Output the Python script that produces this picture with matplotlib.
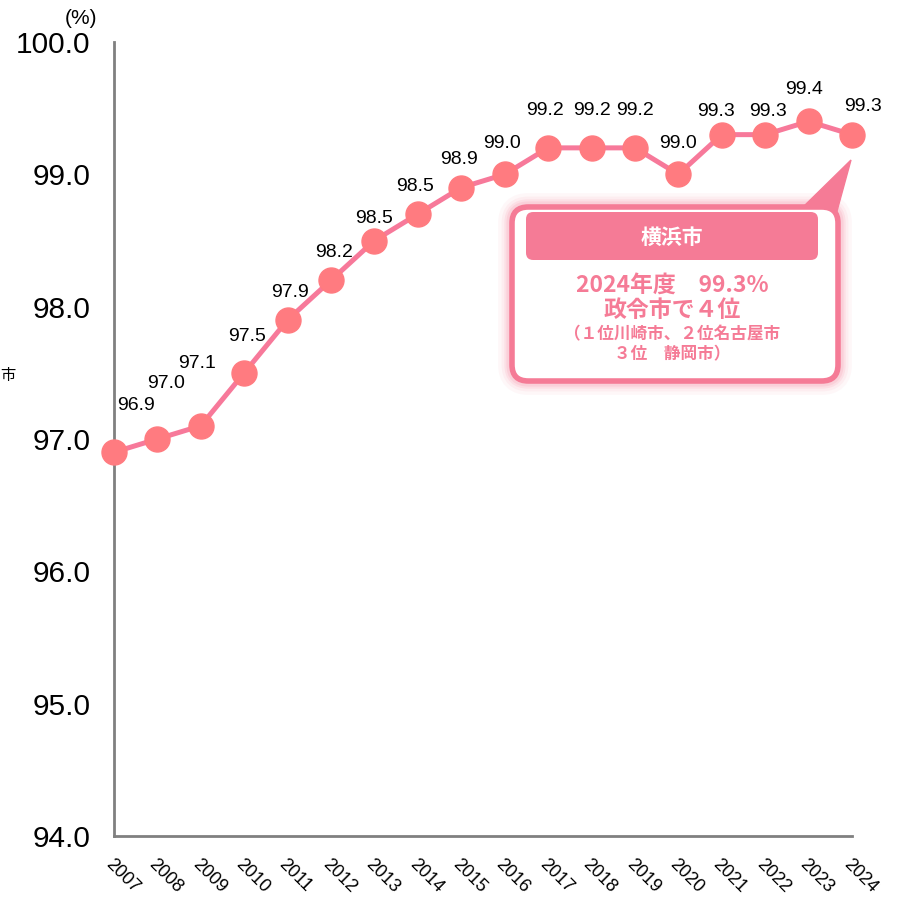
import matplotlib.pyplot as plt
from matplotlib.patches import FancyBboxPatch, Polygon

plt.rcParams['font.family'] = ['Liberation Sans', 'Noto Sans CJK JP', 'DejaVu Sans']

years = ['2007', '2008', '2009', '2010', '2011', '2012', '2013', '2014', '2015',
         '2016', '2017', '2018', '2019', '2020', '2021', '2022', '2023', '2024']
rates = [96.9, 97.0, 97.1, 97.5, 97.9, 98.2, 98.5, 98.7, 98.9,
         99.0, 99.2, 99.2, 99.2, 99.0, 99.3, 99.3, 99.4, 99.3]
labels = ['96.9', '97.0', '97.1', '97.5', '97.9', '98.2', '98.5', '98.5', '98.9',
          '99.0', '99.2', '99.2', '99.2', '99.0', '99.3', '99.3', '99.4', '99.3']
# label offsets (points) as they sit in the original
lab_dx = [16, 6, -3, 2, 2, 2, 0, -2, -2, -2, -2, 0, 0, 0, -4, 2, -3, 8]
lab_dy = [34, 40, 45, 26, 20, 20, 16, 20, 20, 22, 27, 27, 27, 22, 17, 17, 23, 20]

pink = '#F57B96'
marker_c = '#FF7B80'

fig = plt.figure(figsize=(9.07, 8.97), dpi=100)
ax = fig.add_axes([114 / 907, 1 - 836 / 897, (852 - 114) / 907, (836 - 42) / 897])
x = list(range(len(years)))
ax.plot(x, rates, color='#F7799A', lw=3.6, zorder=3, clip_on=False)
ax.plot(x, rates, 'o', ms=18, color=marker_c, mec=marker_c, zorder=4, clip_on=False)
for i, (v, t) in enumerate(zip(rates, labels)):
    ax.annotate(t, (i, v), xytext=(lab_dx[i], lab_dy[i]), textcoords='offset points',
                ha='center', va='center', fontsize=14, color='black')

ax.set_xlim(0, len(years) - 1)
ax.set_ylim(94.0, 100.0)
ax.set_yticks([94, 95, 96, 97, 98, 99, 100])
ax.set_yticklabels([f'{v:.1f}' for v in [94, 95, 96, 97, 98, 99, 100]], fontsize=21.5)
ax.set_xticks(x)
ax.set_xticklabels(years, rotation=-45, ha='left', va='top', fontsize=13,
                   rotation_mode='anchor')
ax.tick_params(axis='both', length=0)
ax.tick_params(axis='y', pad=17)
ax.tick_params(axis='x', pad=14)
for s in ['top', 'right']:
    ax.spines[s].set_visible(False)
for s in ['left', 'bottom']:
    ax.spines[s].set_color('#808080')
    ax.spines[s].set_linewidth(2)

fig.text(81 / 907, 1 - 18 / 897, '(%)', fontsize=15, ha='center', va='center')
fig.text(0.0, 1 - 376 / 897, '市', fontsize=11, ha='left', va='center')

# callout box (figure pixel coords)
def fx(px):
    return px / 907

def fy(py):
    return 1 - py / 897

bx0, by0, bx1, by1 = 512, 207, 838, 381
for lw, a in [(20, 0.06), (15, 0.08), (11, 0.12), (8, 0.15)]:
    glow = FancyBboxPatch((fx(bx0), fy(by1)), fx(bx1) - fx(bx0), fy(by0) - fy(by1),
                          boxstyle='round,pad=0,rounding_size=0.018',
                          transform=fig.transFigure, fc='none', ec=pink,
                          lw=lw, alpha=a, zorder=5)
    fig.add_artist(glow)
tail = Polygon([(fx(800), fy(210)), (fx(851), fy(160)), (fx(834), fy(222))],
               closed=True, transform=fig.transFigure, fc=pink, ec=pink, zorder=6)
fig.add_artist(tail)
box = FancyBboxPatch((fx(bx0), fy(by1)), fx(bx1) - fx(bx0), fy(by0) - fy(by1),
                     boxstyle='round,pad=0,rounding_size=0.018',
                     transform=fig.transFigure, fc='white', ec=pink, lw=4, zorder=7)
fig.add_artist(box)
head = FancyBboxPatch((fx(526), fy(260)), fx(818) - fx(526), fy(212) - fy(260),
                      boxstyle='round,pad=0,rounding_size=0.008',
                      transform=fig.transFigure, fc=pink, ec='none', zorder=8)
fig.add_artist(head)
cx = fx(672)
cjk = ['Noto Sans CJK JP']
fig.text(cx, fy(237), '横浜市', fontsize=15, fontweight='bold', color='white',
         ha='center', va='center', zorder=9, family=cjk)
fig.text(cx, fy(285), '2024年度　99.3%', fontsize=16.5, fontweight='bold', color=pink,
         ha='center', va='center', zorder=9, family=cjk)
fig.text(cx, fy(310), '政令市で４位', fontsize=16.5, fontweight='bold', color=pink,
         ha='center', va='center', zorder=9, family=cjk)
fig.text(cx, fy(334), '（１位川崎市、２位名古屋市', fontsize=12, fontweight='bold', color=pink,
         ha='center', va='center', zorder=9, family=cjk)
fig.text(cx, fy(354), '３位　静岡市）', fontsize=12, fontweight='bold', color=pink,
         ha='center', va='center', zorder=9, family=cjk)

fig.savefig('out.png', dpi=100)
